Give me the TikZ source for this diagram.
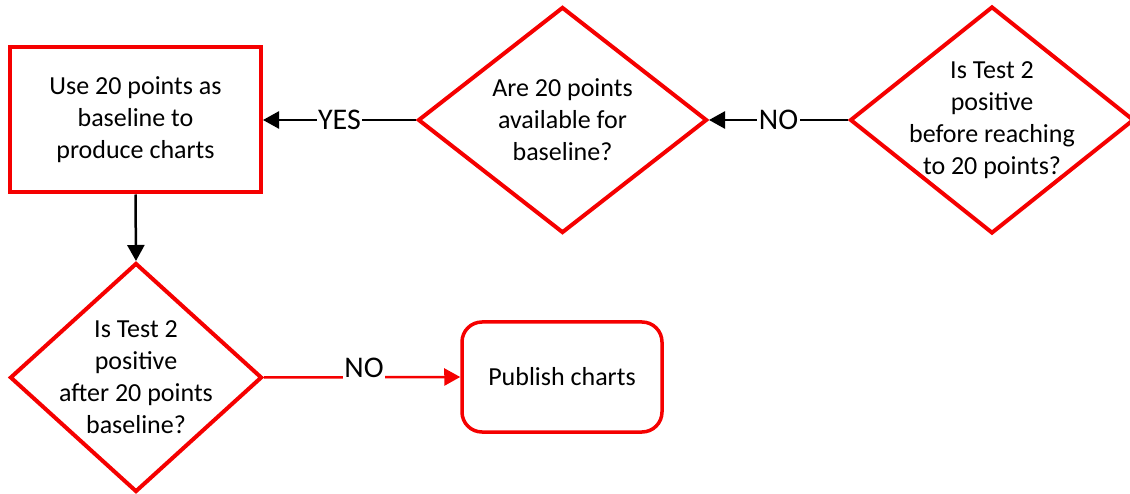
\documentclass[tikz,border=0pt]{standalone}
\usepackage{fontspec}
\setmainfont{Carlito}
\usetikzlibrary{shapes.geometric,arrows.meta}
\definecolor{edgered}{RGB}{245,0,0}
\tikzset{
  boxtext/.style={font=\fontsize{26}{32}\selectfont, align=center, inner sep=0pt},
  procbox/.style={boxtext, draw=edgered, line width=4pt, fill=white,
    minimum width=251pt, minimum height=145pt},
  endbox/.style={boxtext, draw=edgered, line width=3.5pt, fill=white,
    rounded corners=20pt, minimum width=200pt, minimum height=110pt},
  decision/.style={diamond, draw=edgered, line width=4pt, fill=white, inner sep=0pt},
  link/.style={line width=2.5pt, -{Triangle[length=16pt,width=17pt]}},
  tag/.style={font=\fontsize{30}{34}\selectfont, fill=white, inner sep=1.5pt},
}
\begin{document}
\begin{tikzpicture}[x=1pt,y=-1pt]
  \useasboundingbox (0,0) rectangle (1130,494);
  % process boxes
  \node[procbox] (use) at (135.5,120) {Use 20 points as\\baseline to\\produce charts};
  \node[endbox] (pub) at (562,377) {Publish charts};
  % decisions: the outline is one node, the question another on top of it
  \node[decision, minimum width=289pt, minimum height=226pt] (avail) at (562.5,120) {};
  \node[boxtext] (availq) at (avail.center) {Are 20 points\\available for\\baseline?};
  \node[decision, minimum width=284pt, minimum height=227pt] (before) at (992,120) {};
  \node[boxtext] (beforeq) at (before.center) {Is Test 2\\positive\\before reaching\\to 20 points?};
  \node[decision, minimum width=252pt, minimum height=229pt] (after) at (136,377.5) {};
  \node[boxtext] (afterq) at (after.center) {Is Test 2\\positive\\after 20 points\\baseline?};
  % connectors
  \draw[link] (avail.west) -- node[tag, pos=0.5] {YES} (use.east);
  \draw[link] (before.west) -- node[tag, pos=0.5] {NO} (avail.east);
  \draw[link] (use.south) -- (after.north);
  \draw[link, draw=edgered, fill=edgered] (after.east) -- node[tag, pos=0.51, yshift=9pt] {NO} (pub.west);
\end{tikzpicture}
\end{document}
